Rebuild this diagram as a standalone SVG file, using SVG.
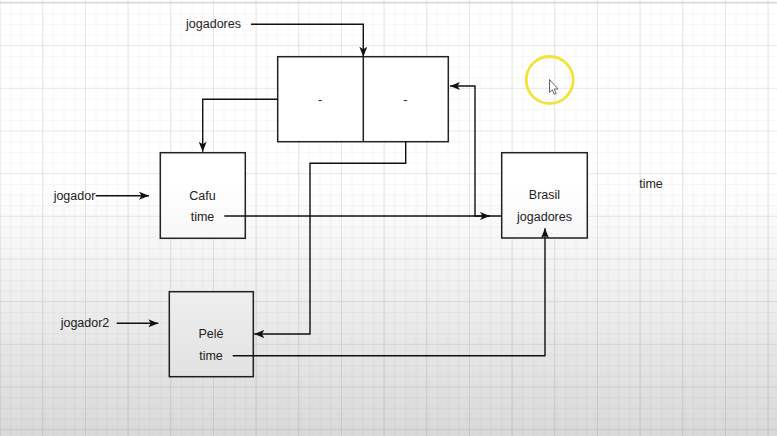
<svg xmlns="http://www.w3.org/2000/svg" width="777" height="436" viewBox="0 0 777 436">
<defs>
<pattern id="minor" x="-0.4" y="2.5" width="10.667" height="10.667" patternUnits="userSpaceOnUse">
<path d="M0 0H10.667M0 0V10.667" fill="none" stroke="#efefef" stroke-width="1"/>
</pattern>
<pattern id="major" x="-0.4" y="2.5" width="42.667" height="42.667" patternUnits="userSpaceOnUse">
<path d="M0 0H42.667M0 0V42.667" fill="none" stroke="#d9d9d9" stroke-width="1.2"/>
</pattern>
<linearGradient id="shade" x1="0" y1="0" x2="0" y2="1">
<stop offset="0" stop-color="#000" stop-opacity="0"/>
<stop offset="0.42" stop-color="#000" stop-opacity="0"/>
<stop offset="1" stop-color="#000" stop-opacity="0.15"/>
</linearGradient>
<marker id="arr" viewBox="0 0 10 8" refX="10" refY="4" markerWidth="10" markerHeight="8" markerUnits="userSpaceOnUse" orient="auto">
<path d="M0 0L10 4L0 8L2.5 4Z" fill="#111"/>
</marker>
</defs>
<style>
.box{fill:#fff;stroke:#222;stroke-width:1.5}
.t{font-family:"Liberation Sans",Arial,sans-serif;font-size:12.5px;fill:#222;text-anchor:middle;dominant-baseline:central}
.c{fill:none;stroke:#111;stroke-width:1.4}
</style>
<rect width="777" height="436" fill="#fff"/>
<rect width="777" height="436" fill="url(#minor)"/>
<rect width="777" height="436" fill="url(#major)"/>
<line x1="0" y1="2.5" x2="777" y2="2.5" stroke="#d9d9d9" stroke-width="1.5"/>

<g id="node-array">
<rect class="box" x="277.7" y="56.7" width="170.6" height="85"/>
<line x1="363.3" y1="56.7" x2="363.3" y2="141.7" stroke="#222" stroke-width="1.5"/>
<text class="t" x="320" y="100">-</text>
<text class="t" x="405.3" y="100">-</text>
</g>
<g id="node-cafu">
<rect class="box" x="160.3" y="152.7" width="85" height="85.6"/>
<text class="t" x="202.5" y="195.7">Cafu</text>
<text class="t" x="202.5" y="216.7">time</text>
</g>
<g id="node-brasil">
<rect class="box" x="501.7" y="152.7" width="85.6" height="85.3"/>
<text class="t" x="544.5" y="195">Brasil</text>
<text class="t" x="544.5" y="216.7">jogadores</text>
</g>
<g id="node-pele">
<rect class="box" x="169.3" y="291.7" width="84" height="85"/>
<text class="t" x="211" y="334">Pelé</text>
<text class="t" x="211" y="355.7">time</text>
</g>
<g id="label-jogadores"><text class="t" x="213.5" y="24.3">jogadores</text></g>
<g id="label-jogador"><text class="t" x="74.5" y="195.7">jogador</text></g>
<g id="label-jogador2"><text class="t" x="85" y="323.3">jogador2</text></g>
<g id="label-time"><text class="t" x="651" y="184.3">time</text></g>

<g id="connectors">
<path class="c" d="M251 24.3H363.3V56.7" marker-end="url(#arr)"/>
<path class="c" d="M277.7 99.3H202.7V151.7" marker-end="url(#arr)"/>
<path class="c" d="M95.7 195.7H149" marker-end="url(#arr)"/>
<path class="c" d="M116.7 323.3H158.3" marker-end="url(#arr)"/>
<path class="c" d="M224.3 216H490" marker-end="url(#arr)"/>
<path class="c" d="M501.7 216H475V86H450" marker-end="url(#arr)"/>
<path class="c" d="M405.7 141.7V163.3H310V334H254.3" marker-end="url(#arr)"/>
<path class="c" d="M232.7 355.7H545V228.3" marker-end="url(#arr)"/>
</g>

<circle cx="549.7" cy="80" r="23.5" fill="none" stroke="#f2e33a" stroke-width="2.8"/>
<path d="M549.5 79.5V92.5L552.3 89.8L554.3 94.3L556.2 93.4L554.2 89H558Z" fill="#fff" stroke="#555" stroke-width="0.9" stroke-linejoin="round"/>

<rect width="777" height="436" fill="url(#shade)"/>
</svg>
